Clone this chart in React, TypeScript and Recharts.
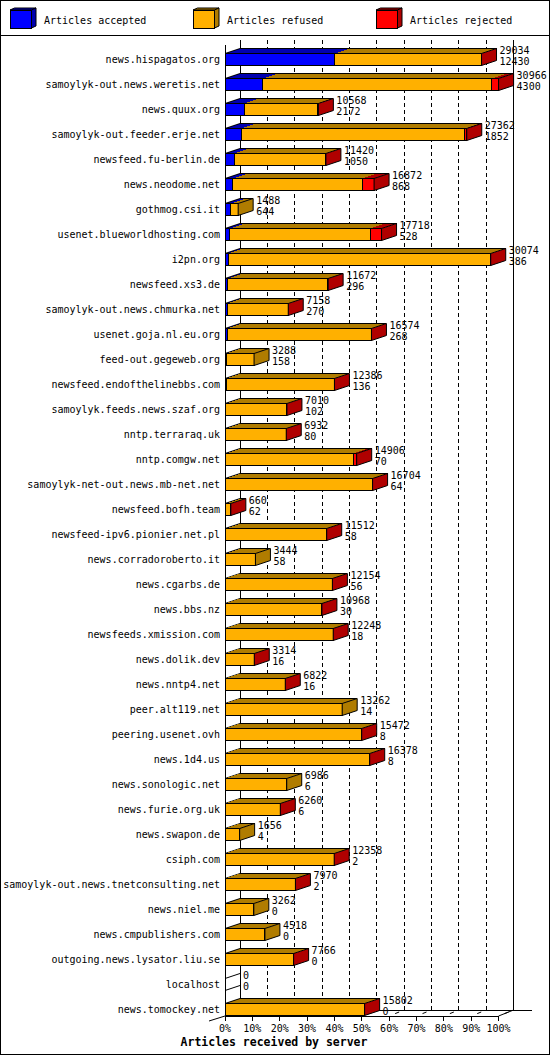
import React from 'react';
import { BarChart, Bar, XAxis, YAxis, CartesianGrid, Legend } from 'recharts';

const servers = [
  'news.hispagatos.org',
  'samoylyk-out.news.weretis.net',
  'news.quux.org',
  'samoylyk-out.feeder.erje.net',
  'newsfeed.fu-berlin.de',
  'news.neodome.net',
  'gothmog.csi.it',
  'usenet.blueworldhosting.com',
  'i2pn.org',
  'newsfeed.xs3.de',
  'samoylyk-out.news.chmurka.net',
  'usenet.goja.nl.eu.org',
  'feed-out.gegeweb.org',
  'newsfeed.endofthelinebbs.com',
  'samoylyk.feeds.news.szaf.org',
  'nntp.terraraq.uk',
  'nntp.comgw.net',
  'samoylyk-net-out.news.mb-net.net',
  'newsfeed.bofh.team',
  'newsfeed-ipv6.pionier.net.pl',
  'news.corradoroberto.it',
  'news.cgarbs.de',
  'news.bbs.nz',
  'newsfeeds.xmission.com',
  'news.dolik.dev',
  'news.nntp4.net',
  'peer.alt119.net',
  'peering.usenet.ovh',
  'news.1d4.us',
  'news.sonologic.net',
  'news.furie.org.uk',
  'news.swapon.de',
  'csiph.com',
  'samoylyk-out.news.tnetconsulting.net',
  'news.niel.me',
  'news.cmpublishers.com',
  'outgoing.news.lysator.liu.se',
  'localhost',
  'news.tomockey.net',
];

// total articles offered (upper number beside each bar)
const offered = [
  29034, 30966, 10568, 27362, 11420, 16872, 1488, 17718, 30074, 11672,
  7158, 16574, 3288, 12386, 7010, 6932, 14906, 16704, 660, 11512,
  3444, 12154, 10968, 12248, 3314, 6822, 13262, 15472, 16378, 6986,
  6260, 1656, 12358, 7970, 3262, 4518, 7766, 0, 15802,
];

// accepted (lower number beside each bar)
const accepted = [
  12430, 4300, 2172, 1852, 1050, 868, 644, 528, 386, 296,
  270, 268, 158, 136, 102, 80, 70, 64, 62, 58,
  58, 56, 30, 18, 16, 16, 14, 8, 8, 6,
  6, 4, 2, 2, 0, 0, 0, 0, 0,
];

const refused = [
  16554, 25916, 8246, 25260, 10270, 14684, 844, 15910, 29658, 11356,
  6868, 16286, 3130, 12230, 6898, 6842, 14436, 16620, 588, 11434,
  3386, 12088, 10928, 12220, 3288, 6796, 13248, 15454, 16360, 6980,
  6244, 1652, 12346, 7958, 3262, 4518, 7756, 0, 15792,
];

const rejected = [
  50, 750, 150, 250, 100, 1320, 0, 1280, 30, 20,
  20, 20, 0, 20, 10, 10, 400, 20, 10, 20,
  0, 10, 10, 10, 10, 10, 0, 10, 10, 0,
  10, 0, 10, 10, 0, 0, 10, 0, 10,
];

const percentTicks = [0, 10, 20, 30, 40, 50, 60, 70, 80, 90, 100];

const MAX = Math.max(...offered);
const xTicks = percentTicks.map((p) => (MAX * p) / 100);

const data = servers.map((server, i) => ({
  server,
  offered: offered[i],
  accepted: accepted[i],
  refused: refused[i],
  rejected: rejected[i],
}));

const FONT = '"DejaVu Sans Mono", "Liberation Mono", monospace';
const DX = 15;
const DY = 5;

const COLORS: Record<string, [string, string]> = {
  accepted: ['#0000ff', '#0000b0'],
  refused: ['#ffb000', '#b07c00'],
  rejected: ['#ff0000', '#b00000'],
};

const firstKey = (p: any) => (p.accepted > 0 ? 'accepted' : p.refused > 0 ? 'refused' : 'rejected');
const lastKey = (p: any) => (p.rejected > 0 ? 'rejected' : p.refused > 0 ? 'refused' : 'accepted');

const ValueLabels = ({ x, yc, top, bottom }: any) => (
  <g fontFamily={FONT} fontSize={10} fill="#000">
    <text x={x} y={yc - 5.4}>{top}</text>
    <text x={x} y={yc + 5.3}>{bottom}</text>
  </g>
);

const makeShape = (key: string) => (props: any) => {
  const { x, y, width, height, payload } = props;
  const yc = y + height / 2;
  if (payload.offered === 0) {
    if (key !== 'accepted') return <g />;
    return (
      <g>
        <line x1={x} y1={y} x2={x + DX} y2={y - DY} stroke="#000" />
        <line x1={x} y1={y + height} x2={x + DX} y2={y + height - DY} stroke="#000" />
        <ValueLabels x={x + DX + 3} yc={yc} top={payload.offered} bottom={payload.accepted} />
      </g>
    );
  }
  if (!payload[key]) return <g />;
  const [front, dark] = COLORS[key];
  const isFirst = firstKey(payload) === key;
  const isLast = lastKey(payload) === key;
  const r = x + width;
  return (
    <g>
      <polygon
        points={`${x},${y} ${x + DX},${y - DY} ${r + DX},${y - DY} ${r},${y}`}
        fill={dark}
        shapeRendering="crispEdges"
      />
      <line x1={x + DX} y1={y - DY} x2={r + DX} y2={y - DY} stroke="#000" shapeRendering="crispEdges" />
      {isFirst && <line x1={x} y1={y} x2={x + DX} y2={y - DY} stroke="#000" />}
      <rect x={x} y={y} width={width} height={height} fill={front} stroke="#000" shapeRendering="crispEdges" />
      {isLast && (
        <>
          <polygon
            points={`${r},${y} ${r + DX},${y - DY} ${r + DX},${y + height - DY} ${r},${y + height}`}
            fill={dark}
            stroke="#000"
          />
          <ValueLabels x={r + DX + 3} yc={yc} top={payload.offered} bottom={payload.accepted} />
        </>
      )}
    </g>
  );
};

// back wall, floor and front axis line, all hung off the library's grid points
const WallLine = (props: any) => {
  const { x1, y1, y2, index } = props;
  const last = percentTicks.length - 1;
  const left = props.x ?? 225;
  const wallTop = y1 - 6.5;
  const floorFront = y2 - 5.5;
  const floorBack = floorFront - 6;
  const solid = index === 0 || index === last;
  return (
    <g stroke="#000" shapeRendering="crispEdges">
      <line x1={x1 + DX} y1={wallTop} x2={x1 + DX} y2={floorBack} strokeDasharray={solid ? undefined : '4 3'} />
      {/* little floor marks, hidden behind a long bottom bar as in the original */}
      {index > 0 && <line x1={x1 + 6} y1={floorFront - 2.4} x2={x1 + 10} y2={floorFront - 4} shapeRendering="auto" />}
      {index === 0 && (
        <>
          <line x1={x1} y1={y1 - 1.5} x2={x1} y2={floorFront} />
          <line x1={x1 - 16} y1={floorFront + 5} x2={x1} y2={floorFront} shapeRendering="auto" />
        </>
      )}
      {index === last && (
        <>
          <line x1={left} y1={floorFront} x2={x1} y2={floorFront} />
          <line x1={left + DX} y1={floorBack} x2={x1 + DX + 18} y2={floorBack} />
          <line x1={x1} y1={floorFront} x2={x1 + DX} y2={floorBack} shapeRendering="auto" />
        </>
      )}
    </g>
  );
};

const PercentTick = (props: any) => {
  const { x, y, index } = props;
  const floorFront = y - 5.5;
  return (
    <g>
      <line x1={x} y1={floorFront} x2={x} y2={floorFront + 4.5} stroke="#000" shapeRendering="crispEdges" />
      <text x={x} y={y + 10} textAnchor="middle" fontFamily={FONT} fontSize={10} fill="#000">
        {percentTicks[index]}%
      </text>
    </g>
  );
};

const ServerTick = (props: any) => {
  const { x, y, payload } = props;
  return (
    <text x={x - 5} y={y + 3.5} textAnchor="end" fontFamily={FONT} fontSize={10} fill="#000">
      {payload.value}
    </text>
  );
};

const AxisTitle = (props: any) => {
  const vb = props.viewBox || { y: 1021.5 };
  return (
    <text x={274} y={vb.y + 24.5} textAnchor="middle" fontFamily={FONT} fontSize={11.5} fontWeight="bold" fill="#000">
      Articles received by server
    </text>
  );
};

const legendItems = [
  { key: 'accepted', label: 'Articles accepted', x: 10 },
  { key: 'refused', label: 'Articles refused', x: 193 },
  { key: 'rejected', label: 'Articles rejected', x: 376 },
];

const LegendBoxes = () => (
  <svg width={550} height={36} style={{ display: 'block' }}>
    {legendItems.map((it) => {
      const [front, dark] = COLORS[it.key];
      const x = it.x;
      return (
        <g key={it.key}>
          <polygon points={`${x},10 ${x + 4.5},8 ${x + 26},8 ${x + 21.5},10`} fill={dark} stroke="#000" />
          <polygon points={`${x + 21.5},10 ${x + 26},8 ${x + 26},26 ${x + 21.5},28`} fill={dark} stroke="#000" />
          <rect x={x} y={10} width={21.5} height={18} fill={front} stroke="#000" shapeRendering="crispEdges" />
          <text x={x + 34} y={23.6} fontFamily={FONT} fontSize={10} fill="#000">
            {it.label}
          </text>
        </g>
      );
    })}
    <line x1={0} y1={35.5} x2={550} y2={35.5} stroke="#000" />
  </svg>
);

export default function App() {
  return (
    <div style={{ position: 'absolute', left: 0, top: 0, width: 550, height: 1055, background: '#fff' }}>
      <BarChart
        layout="vertical"
        width={550}
        height={1055}
        data={data}
        margin={{ top: 46.5, right: 51.4, bottom: 13.5, left: 0 }}
        barSize={12}
        barCategoryGap={0}
      >
        <CartesianGrid horizontal={false} vertical={WallLine} />
        <XAxis
          type="number"
          domain={[0, MAX]}
          ticks={xTicks}
          interval={0}
          height={20}
          tickSize={0}
          tickMargin={0}
          tickLine={false}
          axisLine={false}
          tick={PercentTick}
          label={<AxisTitle />}
        />
        <YAxis
          type="category"
          dataKey="server"
          width={225}
          interval={0}
          tickSize={0}
          tickMargin={0}
          tickLine={false}
          axisLine={false}
          tick={ServerTick}
        />
        <Legend verticalAlign="middle" content={LegendBoxes} wrapperStyle={{ top: 0, left: 0, width: 550, height: 36 }} />
        <Bar dataKey="accepted" stackId="s" shape={makeShape('accepted')} isAnimationActive={false} />
        <Bar dataKey="refused" stackId="s" shape={makeShape('refused')} isAnimationActive={false} />
        <Bar dataKey="rejected" stackId="s" shape={makeShape('rejected')} isAnimationActive={false} />
      </BarChart>
      <div
        style={{
          position: 'absolute',
          left: 0,
          top: 0,
          width: 550,
          height: 1055,
          border: '1px solid #000',
          boxSizing: 'border-box',
          pointerEvents: 'none',
        }}
      />
    </div>
  );
}
